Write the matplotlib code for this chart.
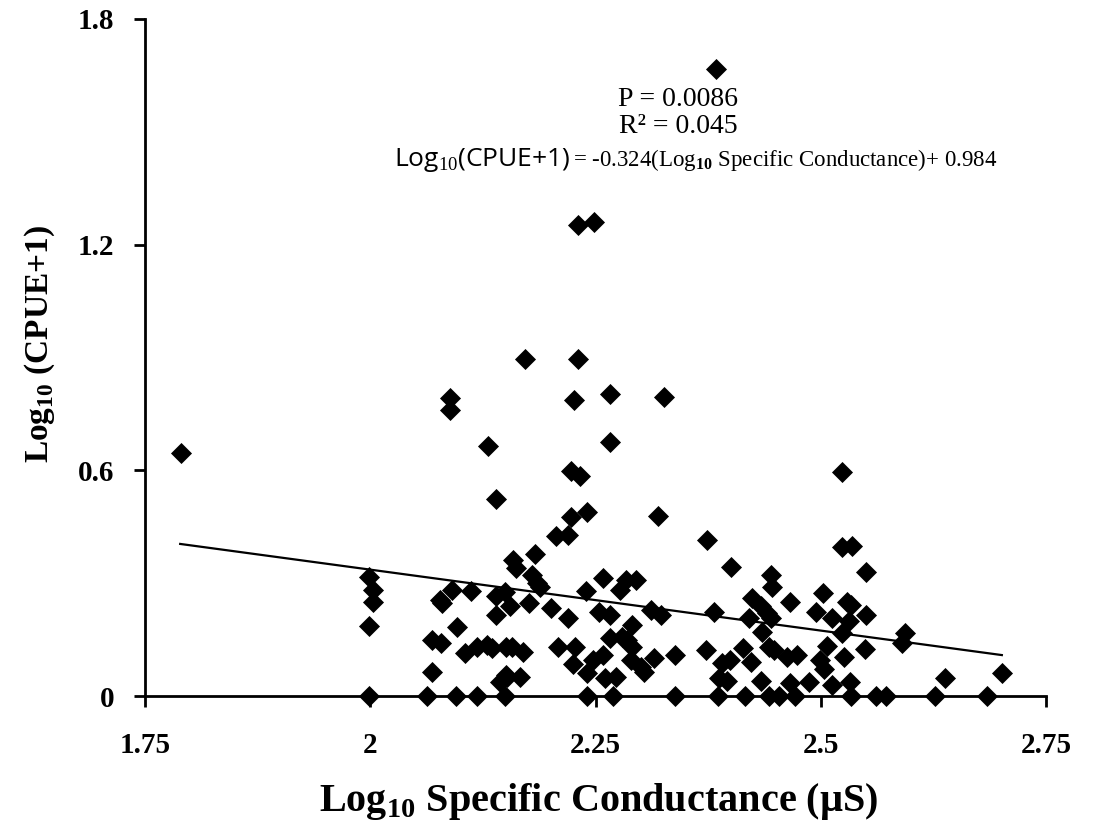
import matplotlib
matplotlib.use("Agg")
import matplotlib.pyplot as plt
import numpy as np

# Log10 specific conductance (x) and Log10(CPUE+1) (y)
x_vals = [1.790, 2.384, 2.231, 2.248, 2.172, 2.231, 2.088, 2.088, 2.226, 2.266,
          2.326, 2.131, 2.266, 2.140, 2.223, 2.233, 2.241, 2.223, 2.206, 2.219,
          2.319, 2.374, 2.183, 2.158, 2.162, 2.179, 2.185, 2.188, 2.258, 2.284,
          2.295, 2.277, 2.239, 2.524, 2.524, 2.535, 2.400, 2.550, 2.445, 2.446,
          2.424, 2.434, 2.440, 2.445, 2.466, 2.502, 2.495, 2.512, 2.529, 2.534,
          2.550, 2.531, 2.524, 2.549, 2.526, 2.532, 2.382, 2.420, 2.435, 2.373,
          2.414, 2.443, 2.448, 2.462, 2.474, 2.507, 2.499, 2.504, 2.390, 2.399,
          2.423, 2.387, 2.396, 2.434, 2.466, 2.487, 2.513, 2.594, 2.590, 2.638,
          2.701, 1.999, 2.003, 2.003, 1.999, 2.077, 2.080, 2.091, 2.112, 2.140,
          2.150, 2.155, 2.139, 2.176, 2.096, 2.068, 2.079, 2.105, 2.118, 2.129,
          2.135, 2.151, 2.068, 2.144, 2.151, 2.201, 2.219, 2.254, 2.266, 2.312,
          2.323, 2.291, 2.266, 2.279, 2.285, 2.291, 2.157, 2.169, 2.208, 2.227,
          2.258, 2.247, 2.289, 2.315, 2.338, 2.225, 2.301, 2.304, 2.241, 2.260,
          2.273, 2.152, 2.166,
          1.999, 2.063, 2.095, 2.118, 2.149, 2.240, 2.269, 2.338, 2.386, 2.416,
          2.443, 2.454, 2.471, 2.534, 2.561, 2.572, 2.627, 2.684]
y_vals = [0.647, 1.667, 1.252, 1.260, 0.896, 0.896, 0.792, 0.760, 0.787, 0.803,
          0.795, 0.665, 0.675, 0.524, 0.598, 0.585, 0.489, 0.476, 0.425, 0.428,
          0.479, 0.415, 0.378, 0.362, 0.340, 0.322, 0.300, 0.290, 0.314, 0.308,
          0.308, 0.282, 0.279, 0.596, 0.396, 0.399, 0.343, 0.330, 0.322, 0.290,
          0.261, 0.239, 0.221, 0.207, 0.250, 0.274, 0.223, 0.207, 0.250, 0.242,
          0.215, 0.199, 0.168, 0.125, 0.104, 0.037, 0.223, 0.207, 0.170, 0.122,
          0.128, 0.130, 0.122, 0.104, 0.109, 0.133, 0.096, 0.072, 0.088, 0.096,
          0.090, 0.048, 0.040, 0.040, 0.035, 0.037, 0.029, 0.168, 0.141, 0.048,
          0.061, 0.316, 0.282, 0.250, 0.186, 0.255, 0.247, 0.282, 0.279, 0.266,
          0.277, 0.239, 0.215, 0.247, 0.183, 0.149, 0.141, 0.114, 0.130, 0.136,
          0.128, 0.130, 0.064, 0.037, 0.056, 0.234, 0.207, 0.223, 0.215, 0.229,
          0.215, 0.189, 0.154, 0.157, 0.149, 0.130, 0.130, 0.117, 0.130, 0.130,
          0.109, 0.096, 0.096, 0.101, 0.109, 0.085, 0.077, 0.064, 0.061, 0.048,
          0.051, 0.051, 0.051,
          0.0, 0.0, 0.0, 0.0, 0.0, 0.0, 0.0, 0.0, 0.0, 0.0,
          0.0, 0.0, 0.0, 0.0, 0.0, 0.0, 0.0, 0.0]

slope = -0.324
intercept = 0.984
line_x = [1.789, 2.701]

x_ticks = [1.75, 2.0, 2.25, 2.5, 2.75]
x_tick_labels = ["1.75", "2", "2.25", "2.5", "2.75"]
y_ticks = [0.0, 0.6, 1.2, 1.8]
y_tick_labels = ["0", "0.6", "1.2", "1.8"]

plt.rcParams['font.family'] = ['Liberation Serif', 'DejaVu Serif']
plt.rcParams['mathtext.fontset'] = 'custom'
plt.rcParams['mathtext.rm'] = 'Liberation Serif'
plt.rcParams['mathtext.bf'] = 'Liberation Serif:bold'

fig = plt.figure(figsize=(10.93, 8.24), dpi=100)
ax = fig.add_axes([0.1327, 0.1553, 0.957 - 0.1327, 0.977 - 0.1553])

ax.scatter(x_vals, y_vals, marker='D', s=115, color='black', zorder=3,
           clip_on=False, linewidths=0)
lx = np.array(line_x)
ax.plot(lx, slope * lx + intercept, color='black', lw=1.6, zorder=2)

ax.set_xlim(1.75, 2.75)
ax.set_ylim(0, 1.8)
ax.set_xticks(x_ticks)
ax.set_xticklabels(x_tick_labels, fontsize=21, fontweight='bold')
ax.set_yticks(y_ticks)
ax.set_yticklabels(y_tick_labels, fontsize=21, fontweight='bold')
for s in ['top', 'right']:
    ax.spines[s].set_visible(False)
for s in ['left', 'bottom']:
    ax.spines[s].set_linewidth(2)
ax.tick_params(direction='out', length=8, width=2)
ax.tick_params(axis='x', pad=18)
ax.tick_params(axis='y', pad=14)

ax.set_xlabel(r"Log$_{\mathbf{10}}$ Specific Conductance (µS)", fontsize=29,
              fontweight='bold')
ax.xaxis.set_label_coords(0.504, -0.125)
ax.set_ylabel(r"Log$_{\mathbf{10}}$ (CPUE+1)", fontsize=24, fontweight='bold')
ax.yaxis.set_label_coords(-0.098, 0.52)

ax.text(2.342, 1.585, "P = 0.0086", ha='center', va='center', fontsize=20)
ax.text(2.342, 1.513, "R² = 0.045", ha='center', va='center', fontsize=20)
ax.text(2.2223, 1.424, r"Log$_{10}$(CPUE+1)", ha='right', va='center',
        fontsize=19, family=['Open Sans', 'DejaVu Sans'])
ax.text(2.2245, 1.424,
        r"= -0.324(Log$_{\mathbf{10}}$ Specific Conductance)+ 0.984",
        ha='left', va='center', fontsize=16.5)

fig.savefig("out.png", dpi=100)
